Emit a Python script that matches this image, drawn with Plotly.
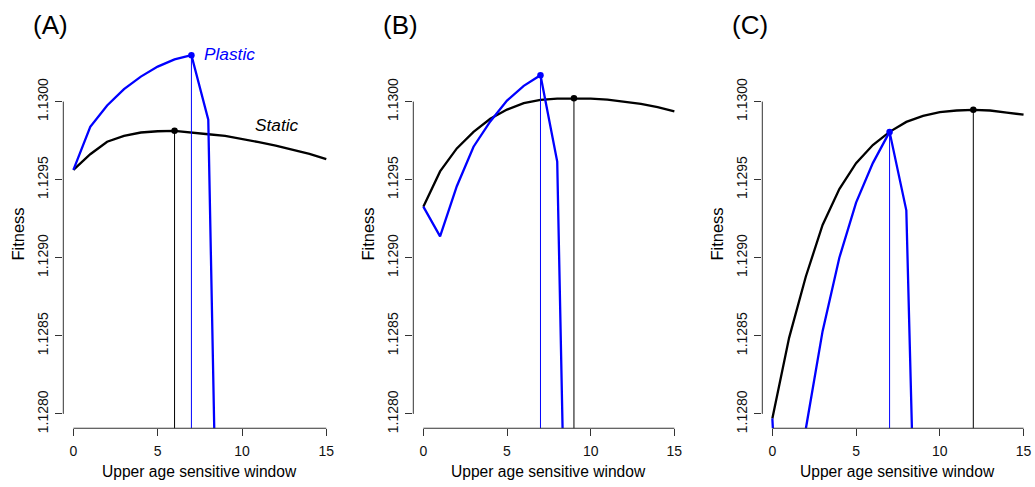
import plotly.graph_objects as go

# Upper age of the sensitive window
ages = list(range(0, 16))
ages_plastic = list(range(0, 10))

# Fitness under the three scenarios
static_a = [1.129563, 1.129663, 1.129743, 1.129781, 1.129802, 1.129810, 1.129813, 1.129804,
            1.129791, 1.129781, 1.129762, 1.129740, 1.129718, 1.129692, 1.129665, 1.129631]
plastic_a = [1.129563, 1.129838, 1.129975, 1.130080, 1.130160, 1.130224, 1.130270, 1.130297,
             1.129884, 1.124300]

static_b = [1.129327, 1.129553, 1.129700, 1.129806, 1.129890, 1.129949, 1.129990, 1.130011,
            1.130019, 1.130021, 1.130019, 1.130013, 1.130000, 1.129985, 1.129964, 1.129937]
plastic_b = [1.129327, 1.129137, 1.129458, 1.129711, 1.129873, 1.130006, 1.130101, 1.130169,
             1.129616, 1.124280]

static_c = [1.127971, 1.128487, 1.128880, 1.129210, 1.129440, 1.129606, 1.129722, 1.129806,
            1.129870, 1.129908, 1.129933, 1.129943, 1.129947, 1.129943, 1.129930, 1.129916]
plastic_c = [1.127971, 1.125900, 1.127905, 1.128530, 1.129000, 1.129353, 1.129606, 1.129806,
             1.129304, 1.125120]

panel_labels = ["(A)", "(B)", "(C)"]
x_ticks = [0, 5, 10, 15]
y_ticks = [1.1280, 1.1285, 1.1290, 1.1295, 1.1300]
y_tick_labels = ["1.1280", "1.1285", "1.1290", "1.1295", "1.1300"]

x_title = "Upper age sensitive window"
y_title = "Fitness"

# Axis limits with R-style 4% padding
X_LIM = (0, 15)
Y_LIM = (1.1280, 1.1303)
xpad = 0.04 * (X_LIM[1] - X_LIM[0])
ypad = 0.04 * (Y_LIM[1] - Y_LIM[0])
x_range = [X_LIM[0] - xpad, X_LIM[1] + xpad]
y_range = [Y_LIM[0] - ypad, Y_LIM[1] + ypad]

W, H = 1035, 487
FONT = "Liberation Sans, Arial, Helvetica, sans-serif"
BLUE = "#0000FF"
AXIS_COL = "#333333"

# Plot-region pixel extents for each panel (left, right); shared top/bottom
panel_px = [(63.3, 336.4), (413.3, 684.4), (762.3, 1033.6)]
top_px, bottom_px = 40.8, 432.7
y_dom = [(H - bottom_px) / H, (H - top_px) / H]

panels = [
    (static_a, plastic_a),
    (static_b, plastic_b),
    (static_c, plastic_c),
]

fig = go.Figure()
shapes = []
annotations = []

for i, (stat, plas) in enumerate(panels):
    n = "" if i == 0 else str(i + 1)
    xa, ya = "x" + n, "y" + n

    stat_best = max(range(len(stat)), key=lambda k: stat[k])
    plas_best = max(range(len(plas)), key=lambda k: plas[k])

    # fitness curves
    fig.add_trace(go.Scatter(x=ages, y=stat, mode="lines", xaxis=xa, yaxis=ya,
                             line=dict(color="black", width=2.3), showlegend=False,
                             hoverinfo="skip"))
    fig.add_trace(go.Scatter(x=ages_plastic, y=plas, mode="lines", xaxis=xa, yaxis=ya,
                             line=dict(color=BLUE, width=2.3), showlegend=False,
                             hoverinfo="skip"))
    # drop lines from the optima
    fig.add_trace(go.Scatter(x=[ages[stat_best], ages[stat_best]],
                             y=[stat[stat_best], y_range[0] - 0.001], mode="lines",
                             xaxis=xa, yaxis=ya, line=dict(color="black", width=1),
                             showlegend=False, hoverinfo="skip"))
    fig.add_trace(go.Scatter(x=[ages_plastic[plas_best], ages_plastic[plas_best]],
                             y=[plas[plas_best], y_range[0] - 0.001], mode="lines",
                             xaxis=xa, yaxis=ya, line=dict(color=BLUE, width=1),
                             showlegend=False, hoverinfo="skip"))
    # optimum markers
    fig.add_trace(go.Scatter(x=[ages[stat_best]], y=[stat[stat_best]], mode="markers",
                             xaxis=xa, yaxis=ya, marker=dict(color="black", size=6.5),
                             showlegend=False, hoverinfo="skip"))
    fig.add_trace(go.Scatter(x=[ages_plastic[plas_best]], y=[plas[plas_best]], mode="markers",
                             xaxis=xa, yaxis=ya, marker=dict(color=BLUE, size=6.5),
                             showlegend=False, hoverinfo="skip"))

    left, right = panel_px[i]
    fig.update_layout({
        "xaxis" + n: dict(domain=[left / W, right / W], range=x_range, anchor=ya,
                          tickvals=x_ticks, ticks="outside", ticklen=7, tickwidth=1,
                          tickcolor=AXIS_COL, showline=False, showgrid=False,
                          zeroline=False, ticklabelstandoff=3,
                          tickfont=dict(family=FONT, size=14, color="#111111")),
        "yaxis" + n: dict(domain=y_dom, range=y_range, anchor=xa,
                          tickvals=y_ticks, ticktext=y_tick_labels, ticks="outside",
                          ticklen=7, tickwidth=1, tickcolor=AXIS_COL, tickangle=-90,
                          showline=False, showgrid=False, zeroline=False,
                          ticklabelstandoff=2,
                          tickfont=dict(family=FONT, size=14, color="#111111")),
    })

    # detached R-style axis lines
    shapes.append(dict(type="line", xref=xa, yref=ya + " domain", x0=X_LIM[0], x1=X_LIM[1],
                       y0=0, y1=0, line=dict(color=AXIS_COL, width=1)))
    shapes.append(dict(type="line", xref=xa + " domain", yref=ya, x0=0, x1=0,
                       y0=y_ticks[0], y1=y_ticks[-1], line=dict(color=AXIS_COL, width=1)))

    # axis titles and panel label
    cx = (left + right) / 2 / W
    annotations.append(dict(text=x_title, xref="paper", yref="paper", x=cx, y=(H - 476) / H,
                            showarrow=False, xanchor="center", yanchor="middle",
                            font=dict(family=FONT, size=15.6, color="black")))
    annotations.append(dict(text=y_title, xref="paper", yref="paper", x=(left - 45) / W,
                            y=(H - (top_px + bottom_px) / 2) / H, textangle=-90,
                            showarrow=False, xanchor="center", yanchor="middle",
                            font=dict(family=FONT, size=16.5, color="black")))
    annotations.append(dict(text=panel_labels[i], xref="paper", yref="paper",
                            x=(left - 12.5) / W, y=(H - 25) / H, showarrow=False,
                            xanchor="center", yanchor="middle",
                            font=dict(family=FONT, size=26, color="black")))

# series labels in panel A
annotations.append(dict(text="<i>Plastic</i>", xref="x", yref="y", x=7.6, y=1.130308,
                        xanchor="left", yanchor="middle", showarrow=False,
                        font=dict(family=FONT, size=17.3, color=BLUE)))
annotations.append(dict(text="<i>Static</i>", xref="x", yref="y", x=12.05, y=1.129853,
                        xanchor="center", yanchor="middle", showarrow=False,
                        font=dict(family=FONT, size=17.3, color="black")))

fig.update_layout(width=W, height=H, margin=dict(l=0, r=0, t=0, b=0),
                  paper_bgcolor="white", plot_bgcolor="white",
                  shapes=shapes, annotations=annotations, showlegend=False)

fig.write_html("out.html")
